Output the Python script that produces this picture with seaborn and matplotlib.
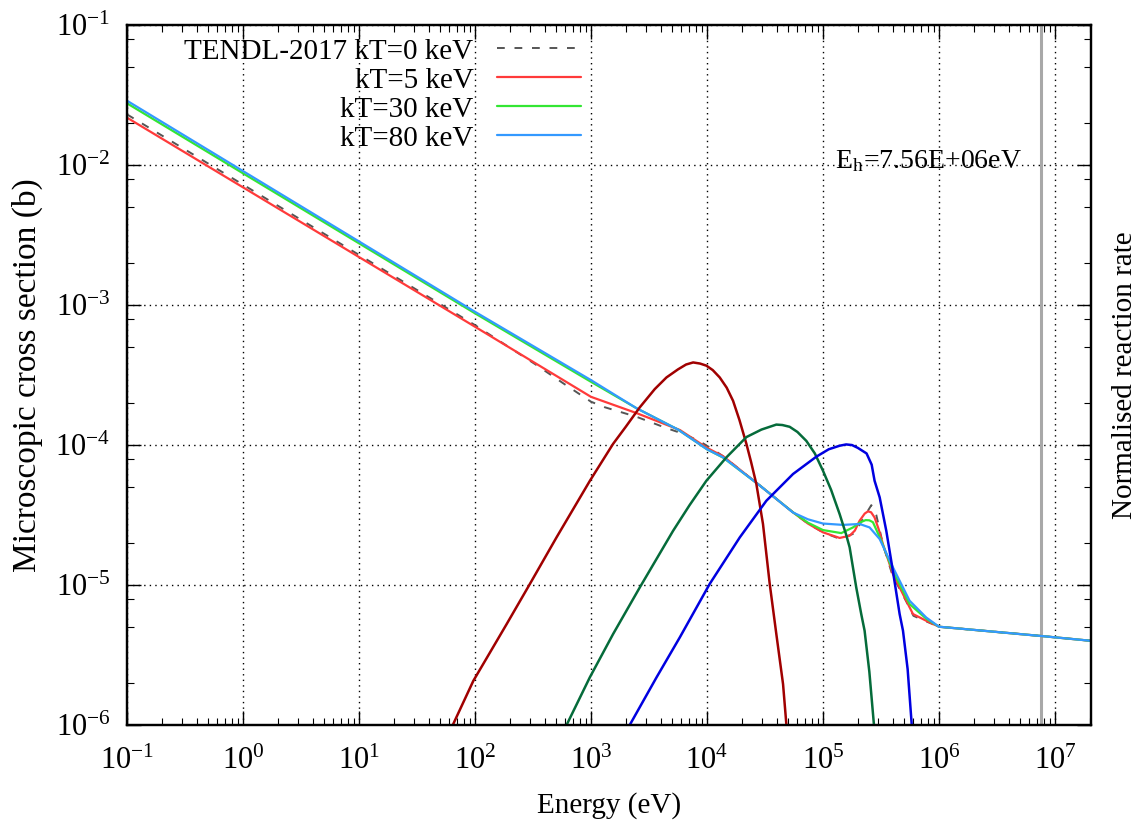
import numpy as np
import pandas as pd
import matplotlib
matplotlib.use("Agg")
import matplotlib.pyplot as plt
import seaborn as sns
from matplotlib.ticker import LogLocator, NullFormatter

# ---------------- data ----------------
# cross sections (b)
e_kt0 = [1e-1, 1e2, 328.9, 576.8, 1e3, 1321, 2477, 4487, 6310, 8710, 11220, 13772,
         28641, 55081, 74131, 1e5, 139316, 187499, 223872, 261216, 288403, 331131, 398107,
         524807, 602560, 776247, 1e6, 7.53e6, 2.03e7]
xs_kt0 = [2.30e-2, 7.19e-4, 3.79e-4, 2.76e-4, 2.04e-4, 1.86e-4, 1.59e-4, 1.32e-4,
          1.20e-4, 1.06e-4, 9.33e-5, 8.32e-5, 5.13e-5, 3.31e-5, 2.75e-5, 2.38e-5, 2.14e-5,
          2.34e-5, 3.02e-5, 3.72e-5, 3.16e-5, 1.91e-5, 1.17e-5, 7.59e-6, 6.03e-6,
          5.50e-6, 5.04e-6, 4.33e-6, 4.00e-6]

e_kt5 = [1e-1, 1e2, 1e3, 2477, 5848, 1e4, 13772, 28641, 55081, 74131, 1e5, 139316, 169824,
         188365, 207014, 229087, 244343, 260016, 278612, 301995, 328851, 400867,
         522396, 597035, 776247, 1e6, 7.53e6, 2.03e7]
xs_kt5 = [2.18e-2, 7.00e-4, 2.21e-4, 1.69e-4, 1.28e-4, 9.55e-5, 8.32e-5, 5.13e-5,
          3.31e-5, 2.75e-5, 2.38e-5, 2.17e-5, 2.25e-5, 2.45e-5, 2.88e-5, 3.24e-5, 3.36e-5,
          3.31e-5, 3.04e-5, 2.51e-5, 1.96e-5, 1.20e-5, 7.73e-6, 6.21e-6, 5.56e-6,
          5.04e-6, 4.33e-6, 4.00e-6]

e_kt30 = [1e-1, 1e2, 1e3, 2477, 5623, 1e4, 13772, 28641, 55081, 74131, 1e5, 143880, 181551,
          208930, 233346, 251189, 269774, 318420, 400867, 558470, 776247, 1e6, 7.53e6, 2.03e7]
xs_kt30 = [2.76e-2, 8.73e-4, 2.83e-4, 1.83e-4, 1.29e-4, 9.33e-5, 8.13e-5, 5.13e-5,
           3.31e-5, 2.79e-5, 2.47e-5, 2.35e-5, 2.58e-5, 2.80e-5, 2.91e-5, 2.90e-5, 2.81e-5,
           2.07e-5, 1.26e-5, 7.31e-6, 5.75e-6, 5.04e-6, 4.33e-6, 4.00e-6]

e_kt80 = [1e-1, 1e2, 1e3, 2477, 5623, 1e4, 13772, 28641, 55081, 74131, 1e5, 148594, 207014,
          252348, 308319, 400867, 558470, 776247, 1e6, 7.53e6, 2.03e7]
xs_kt80 = [2.88e-2, 8.95e-4, 2.91e-4, 1.83e-4, 1.29e-4, 9.33e-5, 8.17e-5, 5.13e-5,
           3.30e-5, 2.95e-5, 2.75e-5, 2.69e-5, 2.73e-5, 2.58e-5, 2.13e-5, 1.34e-5, 7.73e-6,
           5.87e-6, 5.04e-6, 4.33e-6, 4.00e-6]

# normalised reaction rates (right axis, no tick labels)
e_rate5 = [60.3, 96.8, 187.5, 297.8, 504.7, 979.5, 1552, 1995, 2636, 3548, 4477,
           5623, 6607, 7603, 8710, 9886, 11220, 12882, 14791, 16788, 19055, 21878,
           23988, 26669, 30409, 34754, 39628, 45290, 48978]
rate5 = [8.91e-7, 2.07e-6, 5.26e-6, 1.02e-5, 2.19e-5, 5.56e-5, 1.02e-4, 1.35e-4,
         1.86e-4, 2.51e-4, 3.04e-4, 3.47e-4, 3.76e-4, 3.89e-4, 3.82e-4, 3.69e-4,
         3.43e-4, 3.04e-4, 2.57e-4, 2.07e-4, 1.51e-4, 1.02e-4, 7.59e-5, 5.26e-5,
         2.73e-5, 1.02e-5, 4.47e-6, 1.96e-6, 8.91e-7]

e_rate30 = [575.4, 977.2, 1552, 2636, 5105, 7079, 9886, 14723, 21878, 29512, 39628,
            44668, 51642, 60256, 71945, 85114, 1e5, 117490, 139316, 158489, 169824,
            193642, 213796, 228560, 251189, 278612]
rate30 = [8.91e-7, 2.19e-6, 4.47e-6, 9.62e-6, 2.44e-5, 3.72e-5, 5.56e-5, 8.17e-5,
          1.14e-4, 1.29e-4, 1.40e-4, 1.39e-4, 1.35e-4, 1.24e-4, 1.07e-4, 8.71e-5,
          6.56e-5, 4.79e-5, 3.21e-5, 2.29e-5, 1.86e-5, 9.62e-6, 6.21e-6, 4.72e-6,
          2.40e-6, 8.91e-7]

e_rate80 = [1995, 3673, 5834, 10568, 19187, 32509, 55208, 87700, 112202, 139316,
            158489, 177828, 199526, 237684, 263027, 278612, 308319, 351560, 400867,
            458142, 489779, 537032, 588844]
rate80 = [8.91e-7, 2.19e-6, 4.23e-6, 1.02e-5, 2.19e-5, 4.00e-5, 6.21e-5, 8.26e-5,
          9.33e-5, 9.89e-5, 1.01e-4, 1.00e-4, 9.55e-5, 8.71e-5, 7.24e-5, 5.56e-5,
          4.23e-5, 2.44e-5, 1.26e-5, 6.21e-6, 4.72e-6, 2.51e-6, 8.91e-7]

labels = ["TENDL-2017 kT=0 keV", "kT=5 keV", "kT=30 keV", "kT=80 keV"]
e_h = 7.56e6
x_ticks = [1e-1, 1e0, 1e1, 1e2, 1e3, 1e4, 1e5, 1e6, 1e7]
y_ticks = [1e-6, 1e-5, 1e-4, 1e-3, 1e-2, 1e-1]

# ---------------- style ----------------
sns.set_theme(style="white")
plt.rcParams["font.family"] = ["Liberation Serif", "DejaVu Serif"]
plt.rcParams["mathtext.fontset"] = "stix"
plt.rcParams["axes.linewidth"] = 1.6
plt.rcParams["text.color"] = "black"
plt.rcParams["axes.labelcolor"] = "black"
plt.rcParams["xtick.color"] = "black"
plt.rcParams["ytick.color"] = "black"

fig = plt.figure(figsize=(11.42, 8.23), dpi=100)
ax = fig.add_axes([0.1112, 0.119, 0.8438, 0.8506])
ax.set_xscale("log")
ax.set_yscale("log")

c_dash = "#555555"
c_red, c_green, c_blue = "#ff3a3a", "#33e633", "#3399ff"
c_dred, c_dgreen, c_dblue = "#a00000", "#056b3a", "#0000e0"

sns.lineplot(x=e_kt0, y=xs_kt0, ax=ax, color=c_dash, lw=1.4, estimator=None, sort=False,
             linestyle=(0, (4, 5)), label=labels[0])
sns.lineplot(x=e_kt5, y=xs_kt5, ax=ax, color=c_red, lw=1.6, estimator=None, sort=False, label=labels[1])
sns.lineplot(x=e_kt30, y=xs_kt30, ax=ax, color=c_green, lw=1.6, estimator=None, sort=False, label=labels[2])
sns.lineplot(x=e_kt80, y=xs_kt80, ax=ax, color=c_blue, lw=1.6, estimator=None, sort=False, label=labels[3])

ax.axvline(e_h, color="#a8a8a8", lw=2.2, zorder=1)

y_minor_subs = [2, 5, 8]
ax.grid(True, which="major", color="black", linestyle=(0, (1, 3)), linewidth=1.0)
ax.xaxis.set_minor_locator(LogLocator(base=10, subs=np.arange(2, 10), numticks=100))
ax.yaxis.set_minor_locator(LogLocator(base=10, subs=y_minor_subs, numticks=100))
ax.xaxis.set_minor_formatter(NullFormatter())
ax.yaxis.set_minor_formatter(NullFormatter())
ax.set_xticks(x_ticks)
ax.set_yticks(y_ticks)
ax.set_xlim(1e-1, 2.03e7)
ax.set_ylim(1e-6, 1e-1)
ax.tick_params(which="both", direction="in", top=True, bottom=True, left=True, right=False)
ax.tick_params(which="major", length=10, width=1.0)
ax.tick_params(which="minor", length=5, width=0.8)
ax.tick_params(axis="x", which="major", labelsize=22, pad=16)
ax.tick_params(axis="y", which="major", labelsize=22, pad=12)

ax.set_xlabel("Energy (eV)", fontsize=21, labelpad=11)
ax.set_ylabel("Microscopic cross section (b)", fontsize=24, labelpad=9)

ax.text(1.27e5, 9.5e-3, r"E$_\mathregular{h}$=7.56E+06eV", fontsize=20,
        ha="left", va="baseline")

leg = ax.legend(loc="upper right", bbox_to_anchor=(0.4836, 0.998), markerfirst=False,
                frameon=False, fontsize=21, handlelength=2.9, handletextpad=0.8,
                labelspacing=0.09, borderaxespad=0.0)

# right axis: reaction rates
ax2 = ax.twinx()
ax2.set_yscale("log")
sns.lineplot(x=e_rate5, y=rate5, ax=ax2, color=c_dred, lw=1.8, estimator=None, sort=False)
sns.lineplot(x=e_rate30, y=rate30, ax=ax2, color=c_dgreen, lw=1.8, estimator=None, sort=False)
sns.lineplot(x=e_rate80, y=rate80, ax=ax2, color=c_dblue, lw=1.8, estimator=None, sort=False)
ax2.set_ylim(1e-6, 1e-1)
ax2.yaxis.set_major_locator(LogLocator(base=10, numticks=20))
ax2.yaxis.set_minor_locator(LogLocator(base=10, subs=y_minor_subs, numticks=100))
ax2.yaxis.set_major_formatter(NullFormatter())
ax2.yaxis.set_minor_formatter(NullFormatter())
ax2.tick_params(which="both", direction="in", right=True)
ax2.tick_params(which="major", length=10, width=1.0)
ax2.tick_params(which="minor", length=5, width=0.8)
ax2.set_ylabel("Normalised reaction rate", fontsize=21, labelpad=12)
for sp in list(ax2.spines.values()) + list(ax.spines.values()):
    sp.set_linewidth(1.6)
    sp.set_color("black")
if ax2.get_legend() is not None:
    ax2.get_legend().remove()

fig.savefig("out.png", dpi=100)
